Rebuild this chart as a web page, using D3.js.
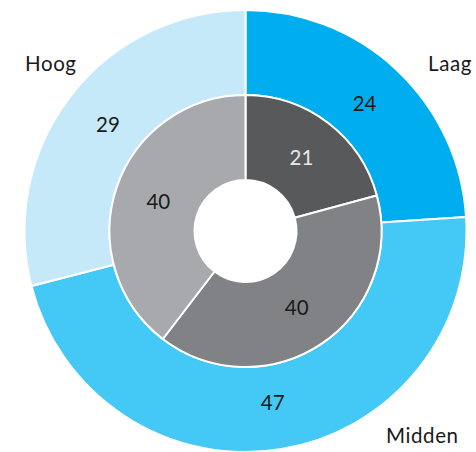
<!DOCTYPE html>
<html>
<head>
<meta charset="utf-8">
<script src="https://cdn.jsdelivr.net/npm/d3@7"></script>
<style>
  html, body { margin: 0; padding: 0; background: #ffffff; }
  svg { display: block; }
  text { font-family: Lato, "Open Sans", sans-serif; }
</style>
</head>
<body>
<svg id="chart" width="476" height="452"></svg>
<script>
// Outer ring: categories and their values
const categories = ["Laag", "Midden", "Hoog"];
const outerValues = [24, 47, 29];
const outerColors = ["#00AEEF", "#44C8F5", "#C6E9F9"];

// Inner ring values
const innerValues = [21, 40, 40];
const innerColors = ["#58595B", "#808285", "#A7A9AC"];
const innerTextColors = ["#E8E8E8", "#1a1a1a", "#1a1a1a"];

// Category label placement
const categoryLabelPos = [[428, 71], [386, 443], [25, 71]];

const width = 476, height = 452;
const cx = 245.5, cy = 231;
const rHole = 51, rMid = 136, rOuter = 221;
const fontSize = 20.5;

const svg = d3.select("#chart");
const g = svg.append("g").attr("transform", `translate(${cx},${cy})`);

const pie = d3.pie().sort(null).value(d => d);

const outerArc = d3.arc().innerRadius(rMid).outerRadius(rOuter);
const innerArc = d3.arc().innerRadius(rHole).outerRadius(rMid);
const outerLabelArc = d3.arc().innerRadius(174).outerRadius(174);
const innerLabelArc = d3.arc().innerRadius(92).outerRadius(92);

const outerData = pie(outerValues);
const innerData = pie(innerValues);

// Outer ring slices
g.selectAll("path.outer")
  .data(outerData)
  .join("path")
  .attr("class", "outer")
  .attr("d", outerArc)
  .attr("fill", (d, i) => outerColors[i])
  .attr("stroke", "#ffffff")
  .attr("stroke-width", 2)
  .attr("stroke-linejoin", "round");

// Inner ring slices
g.selectAll("path.inner")
  .data(innerData)
  .join("path")
  .attr("class", "inner")
  .attr("d", innerArc)
  .attr("fill", (d, i) => innerColors[i])
  .attr("stroke", "#ffffff")
  .attr("stroke-width", 2)
  .attr("stroke-linejoin", "round");

// Value labels
g.selectAll("text.outer-val")
  .data(outerData)
  .join("text")
  .attr("class", "outer-val")
  .attr("transform", d => `translate(${outerLabelArc.centroid(d)})`)
  .attr("text-anchor", "middle")
  .attr("dy", "0.35em")
  .attr("font-size", fontSize)
  .attr("fill", "#1a1a1a")
  .text(d => d.data);

g.selectAll("text.inner-val")
  .data(innerData)
  .join("text")
  .attr("class", "inner-val")
  .attr("transform", d => `translate(${innerLabelArc.centroid(d)})`)
  .attr("text-anchor", "middle")
  .attr("dy", "0.35em")
  .attr("font-size", fontSize)
  .attr("fill", (d, i) => innerTextColors[i])
  .text(d => d.data);

// Category labels
svg.selectAll("text.cat")
  .data(categories)
  .join("text")
  .attr("class", "cat")
  .attr("x", (d, i) => categoryLabelPos[i][0])
  .attr("y", (d, i) => categoryLabelPos[i][1])
  .attr("font-size", fontSize)
  .attr("letter-spacing", 0.6)
  .attr("fill", "#1a1a1a")
  .text(d => d);
</script>
</body>
</html>
